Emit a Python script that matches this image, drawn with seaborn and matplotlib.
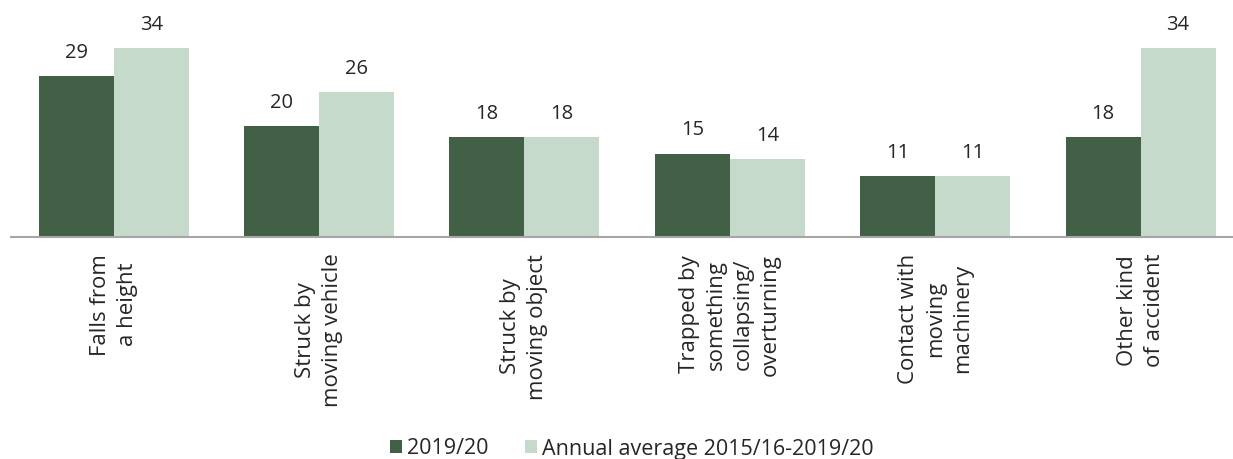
import matplotlib
matplotlib.use("Agg")
import matplotlib.pyplot as plt
import seaborn as sns
import pandas as pd
from matplotlib.patches import Patch

categories = ["Falls from\na height", "Struck by\nmoving vehicle", "Struck by\nmoving object",
              "Trapped by\nsomething\ncollapsing/\noverturning", "Contact with\nmoving\nmachinery",
              "Other kind\nof accident"]
series_names = ["2019/20", "Annual average 2015/16-2019/20"]
values_2019 = [29, 20, 18, 15, 11, 18]
values_avg = [34, 26, 18, 14, 11, 34]
colors = ["#426045", "#c6dacb"]

df = pd.DataFrame({
    "category": categories * 2,
    "series": [series_names[0]] * 6 + [series_names[1]] * 6,
    "value": values_2019 + values_avg,
})

sns.set_theme(style="white")
plt.rcParams["font.family"] = ["Open Sans", "DejaVu Sans"]

fig = plt.figure(figsize=(12.33, 4.59), dpi=100)
ax = fig.add_axes([11 / 1233, 1 - 237 / 459, 1 - 11 / 1233, 237 / 459])

sns.barplot(data=df, x="category", y="value", hue="series", palette=colors,
            width=0.73, gap=0, saturation=1, ax=ax, legend=False, edgecolor="none")

for cont in ax.containers:
    for bar in cont:
        h = bar.get_height()
        ax.annotate(f"{h:.0f}", (bar.get_x() + bar.get_width() / 2, h),
                    xytext=(0, 13), textcoords="offset points",
                    ha="center", va="baseline", fontsize=14.5, color="#262626",
                    annotation_clip=False)

ax.set_xlim(-0.5, 5.45)
ax.set_ylim(0, 42.6)
ax.set_xlabel("")
ax.set_ylabel("")
ax.set_yticks([])
for s in ["top", "right", "left"]:
    ax.spines[s].set_visible(False)
ax.spines["bottom"].set_color("#a6a6a6")
ax.spines["bottom"].set_linewidth(1.5)
ax.tick_params(axis="x", length=0, pad=12)
ax.set_xticks(range(len(categories)))
ax.set_xticklabels(categories, rotation=90, ha="center", va="top",
                   multialignment="center", fontsize=16, linespacing=1.38,
                   color="#262626")

handles = [Patch(facecolor=c, edgecolor="none") for c in colors]
fig.legend(handles, series_names, loc="center", bbox_to_anchor=(632 / 1233, 1 - 449 / 459),
           ncol=2, frameon=False, fontsize=15.5, handlelength=0.55, handleheight=0.55,
           handletextpad=0.25, columnspacing=1.7, labelcolor="#262626",
           borderpad=0, borderaxespad=0)

fig.savefig("out.png", dpi=100)
